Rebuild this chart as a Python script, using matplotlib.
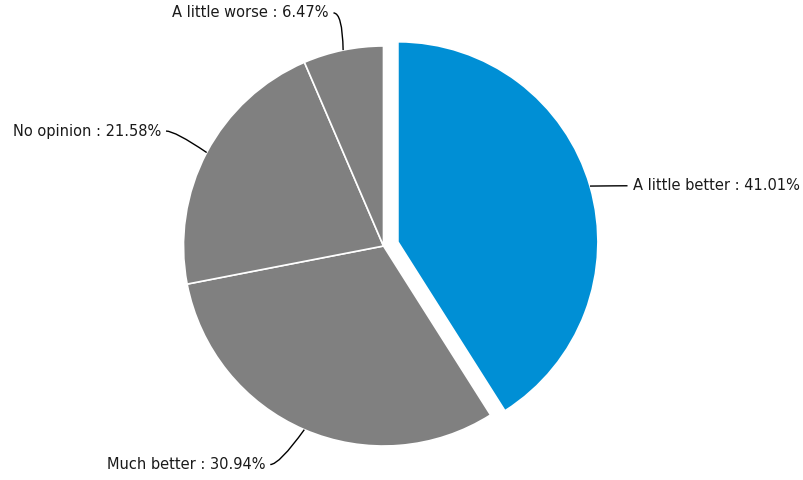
import numpy as np
import matplotlib.pyplot as plt
from matplotlib.path import Path
from matplotlib.patches import PathPatch

# slice data, clockwise from the top
labels = ['A little better', 'Much better', 'No opinion', 'A little worse']
shares = [41.01, 30.94, 21.58, 6.47]
colors = ['#008fd5', '#808080', '#808080', '#808080']
explode_px = [15, 0, 0, 0]

# label placement: distance from centre and small pixel nudges (x, y down)
label_r = [237, 238, 246, 238]
label_nudge = [(2, 10), (-19, 0), (0, 0), (-2, 0)]

W, H = 804, 480
cx, cy, r = 383.5, H - 246, 200

fig = plt.figure(figsize=(W / 100, H / 100), dpi=100)
ax = fig.add_axes([0, 0, 1, 1])

# matplotlib's explode is in data units, here pixels
ax.pie(shares, colors=colors, startangle=90, counterclock=False,
       center=(cx, cy), radius=r, explode=explode_px,
       wedgeprops=dict(edgecolor='white', linewidth=1.2),
       frame=True)
ax.set_xlim(0, W)
ax.set_ylim(0, H)
ax.set_aspect('equal')
ax.axis('off')

# data labels with bent connectors
start = 90.0
for lab, val, ex, lr, (nx, ny) in zip(labels, shares, explode_px, label_r, label_nudge):
    sweep = val / 100 * 360
    mid = np.deg2rad(start - sweep / 2)
    start -= sweep
    dx, dy = np.cos(mid), np.sin(mid)
    ox, oy = cx + ex * dx, cy + ex * dy
    p0 = (ox + r * dx, oy + r * dy)
    p2 = (ox + lr * dx + nx, oy + lr * dy - ny)
    side = 1 if dx >= 0 else -1
    p1 = (p2[0] - side * 9, p2[1])
    path = Path([p0, p1, p2], [Path.MOVETO, Path.CURVE3, Path.CURVE3])
    ax.add_patch(PathPatch(path, fill=False, edgecolor='black', linewidth=1))
    ax.text(p2[0] + side * 5, p2[1], f'{lab} : {val:.2f}%',
            ha='left' if side > 0 else 'right', va='center',
            fontsize=10.5, color='#1a1a1a', family='DejaVu Sans')

fig.savefig('out.png', dpi=100)
